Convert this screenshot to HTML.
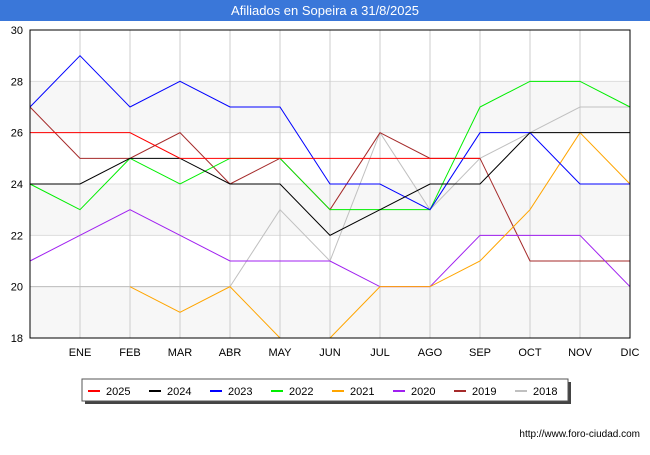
<!DOCTYPE html>
<html><head><meta charset="utf-8"><style>
body{margin:0;background:#fff;font-family:"Liberation Sans",sans-serif}
</style></head><body>
<svg width="650" height="450" xmlns="http://www.w3.org/2000/svg" font-family="Liberation Sans, sans-serif">
<rect x="0" y="0" width="650" height="21" fill="#3a77d9"/>
<text x="325" y="15" text-anchor="middle" fill="#fff" font-size="13">Afiliados en Sopeira a 31/8/2025</text>
<g id="bands"></g><g id="grid"></g><g id="series"></g>
<rect x="30" y="30" width="600" height="308" fill="none" stroke="#000" stroke-width="1"/>
<g id="yt" font-size="11"></g><g id="xt" font-size="11"></g>
<rect x="85" y="382" width="486" height="22" fill="#444"/>
<rect x="82" y="379" width="486" height="22" fill="#fff" stroke="#555"/>
<g id="legend" font-size="11"></g>
<text x="640" y="437" text-anchor="end" font-size="10" fill="#000">http://www.foro-ciudad.com</text>
</svg>
<script>
const categories=["","ENE","FEB","MAR","ABR","MAY","JUN","JUL","AGO","SEP","OCT","NOV","DIC"];
const yTicks=[18,20,22,24,26,28,30];
const names=["2025","2024","2023","2022","2021","2020","2019","2018"];
const colors=["#ff0000","#000000","#0000ff","#00ee00","#ffa500","#a020f0","#a52a2a","#c0c0c0"];
const s2025=[26,26,26,25,25,25,25,25,25,25,null,null,null];
const s2024=[24,24,25,25,24,24,22,23,24,24,26,26,26];
const s2023=[27,29,27,28,27,27,24,24,23,26,26,24,24];
const s2022=[24,23,25,24,25,25,23,23,23,27,28,28,27];
const s2021=[null,null,20,19,20,18,18,20,20,21,23,26,24];
const s2020=[21,22,23,22,21,21,21,20,20,22,22,22,20];
const s2019=[27,25,25,26,24,25,23,26,25,25,21,21,21];
const s2018=[20,20,20,20,20,23,21,26,23,25,26,27,27];
const series=[s2025,s2024,s2023,s2022,s2021,s2020,s2019,s2018];
const NS="http://www.w3.org/2000/svg";
const X=i=>30+i*50, Y=v=>338-(v-18)*308/12;
function mk(t,a,p){const e=document.createElementNS(NS,t);for(const k in a)e.setAttribute(k,a[k]);document.getElementById(p).appendChild(e);return e;}
for(let i=0;i<yTicks.length-1;i++){if(i%2==0){const e=mk("rect",{x:30,y:Y(yTicks[i+1]),width:600,height:Y(yTicks[i])-Y(yTicks[i+1]),fill:"#f7f7f7"},"bands");

}}
yTicks.forEach(v=>{const l=mk("line",{x1:30,x2:630,y1:Y(v),y2:Y(v),stroke:"#ddd"},"grid");


const t=mk("text",{x:23,y:Y(v)+4,"text-anchor":"end"},"yt");t.textContent=v;

});
categories.forEach((c,i)=>{if(i>0){const l=mk("line",{x1:X(i),x2:X(i),y1:30,y2:338,stroke:"#ccc"},"grid");


const t=mk("text",{x:X(i),y:356,"text-anchor":"middle"},"xt");t.textContent=c;

}});
for(let k=series.length-1;k>=0;k--){const d=series[k];let p="",pen=false;d.forEach((v,i)=>{if(v==null){pen=false;return;}p+=(pen?"L":"M")+X(i)+" "+Y(v)+" ";pen=true;});
const e=mk("path",{d:p,fill:"none",stroke:colors[k],"stroke-width":1},"series");

}
names.forEach((n,k)=>{const x=88+k*61;const l=mk("line",{x1:x,x2:x+12,y1:391,y2:391,stroke:colors[k],"stroke-width":2},"legend");


const t=mk("text",{x:x+18,y:395},"legend");t.textContent=n;

});
</script>
</body></html>
